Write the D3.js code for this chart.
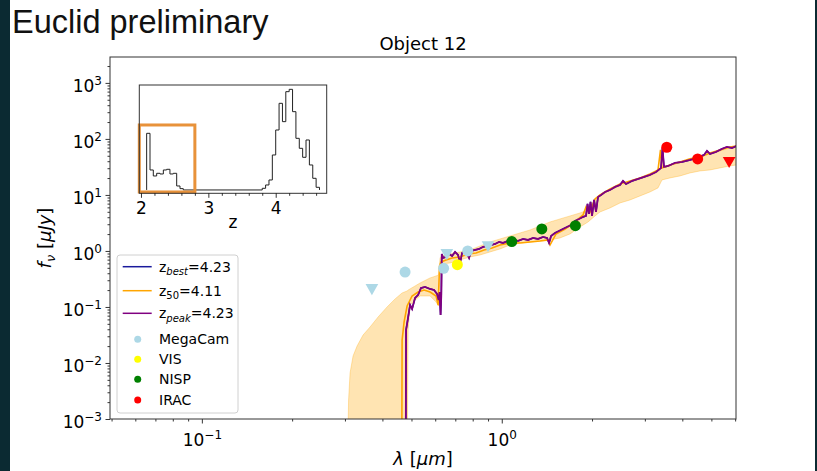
<!DOCTYPE html>
<html><head><meta charset="utf-8">
<script src="https://cdn.jsdelivr.net/npm/d3@7"></script>
<style>body{margin:0;background:#fff}svg{display:block}text{font-family:"DejaVu Sans",sans-serif}</style>
</head><body>
<svg id="c" width="817" height="471"></svg>
<script>
// ---------- DATA ----------
const xLim = [0.0494, 6.04];          // wavelength [um]
const yLim = [1e-3, 2900];            // flux [uJy]
const xMajorTicks = [0.1, 1];
const yMajorTicks = [1e-3, 1e-2, 1e-1, 1, 10, 100, 1000];

// best-fit / peak template (z = 4.23)
const peakLambda = [0.4778,0.4797,0.487,0.4946,0.5023,0.514,0.526,0.538,0.555,0.577,
0.5946,0.6086,0.6157,0.6204,0.6252,0.6285,0.631,0.6373,0.652,0.6673,
0.683,0.6988,0.715,0.726,0.7375,0.76,0.778,0.79,0.815,0.84,
0.8664,0.893,0.921,0.95,0.9795,1.01,1.049,1.09,1.133,1.178,
1.224,1.2716,1.321,1.373,1.416,1.438,1.46,1.505,1.552,1.6,
1.651,1.702,1.755,1.81,1.866,1.91,1.932,1.954,1.977,2.0,
2.031,2.062,2.094,2.143,2.21,2.296,2.388,2.48,2.537,2.596,
2.719,2.847,2.981,3.121,3.268,3.396,3.435,3.475,3.584,3.782,
3.99,4.244,4.477,4.725,4.834,4.947,5.18,5.424,5.636,5.856,6.085];
const peakFlux = [1e-5,0.039,0.0636,0.1086,0.092,0.145,0.164,0.218,0.2276,0.2096,
0.201,0.1706,0.1334,0.185,0.072,0.157,0.884,0.75,0.781,0.883,
0.814,0.96,0.849,0.61,0.921,1.0,0.75,1.0,1.042,1.086,
1.179,1.228,1.28,1.334,1.448,1.39,1.509,1.572,1.509,1.638,
1.572,1.707,1.638,1.778,1.707,1.39,1.853,2.096,2.275,2.47,
2.683,2.911,3.434,3.727,4.047,4.217,6.9,4.58,7.5,4.217,
8.14,4.97,9.21,10,11.31,12.28,13.9,15.1,17.78,15.7,
17.78,19.3,20.96,22.76,25.7,30.3,69,31.6,32.9,37.3,
38.8,42.2,45.8,51.8,61,54,58.6,66.3,72,69,75];
// z_best = z_peak = 4.23 -> same template
const bestLambda = peakLambda;
const bestFlux = peakFlux;

// median template (z = 4.11)
const medLambda = [0.4634,0.4653,0.4725,0.4835,0.5023,0.526,0.5508,0.577,0.604,0.6135,
0.6204,0.6275,0.652,0.683,0.726,0.772,0.821,0.873,0.928,0.987,
1.066,1.151,1.243,1.342,1.427,1.449,1.517,1.626,1.755,1.866,
1.91,1.97,2.046,2.127,2.296,2.48,2.677,2.891,3.121,3.319,
3.383,3.422,3.639,3.93,4.244,4.581,4.947,5.342,5.768,6.085];
const medFlux = [1e-5,0.0258,0.054,0.104,0.157,0.185,0.201,0.185,0.157,0.1086,
0.54,0.636,0.69,0.75,0.781,0.884,0.921,1.042,1.131,1.28,
1.39,1.39,1.448,1.509,1.572,1.28,2.01,2.47,3.3,4.39,
6.1,4.97,8.49,10,12.8,15.7,17.78,20.1,23.7,27.9,
63.6,30.3,34.3,38.8,44,47.7,56.2,63.6,72,75];

// uncertainty band
const bandLambda = [0.3050,0.3085,0.3120,0.3193,0.3293,0.3448,0.3639,0.3870,0.4146,0.4408,
0.4653,0.4835,0.4872,0.4946,0.5140,0.5341,0.5768,0.6039,0.6156,0.6227,
0.6299,0.6726,0.7261,0.7840,0.8465,0.9140,0.9870,1.066,1.151,1.243,
1.342,1.449,1.564,1.689,1.824,1.940,2.046,2.127,2.296,2.480,
2.677,2.891,3.121,3.319,3.422,3.639,3.930,4.244,4.581,4.947,
5.342,5.768,6.085];
const bandHigh = [1e-4,0.00218,0.00663,0.01334,0.0201,0.0316,0.0440,0.0663,0.1,0.139,
0.178,0.193,0.20,0.21,0.237,0.268,0.330,0.358,0.373,0.750,
0.814,0.884,0.960,1.042,1.228,1.448,1.638,1.853,2.096,2.371,
2.795,3.295,3.728,4.217,4.771,5.397,8.48,9.60,12.28,14.48,
17.08,19.31,21.84,25.75,30.36,34.34,37.28,42.17,47.7,53.96,
61.05,69.04,75.0];
const bandLow = [1e-4,1e-4,1e-4,1e-4,1e-4,1e-4,1e-4,1e-4,1e-4,1e-4,
1e-4,1e-4,0.0388,0.1086,0.1334,0.1572,0.1572,0.1228,0.1042,0.458,
0.586,0.610,0.691,0.781,0.848,0.960,1.086,1.280,1.390,1.448,
1.509,1.572,1.707,2.012,2.683,3.295,4.217,4.970,5.86,7.20,
8.14,9.60,11.31,13.34,18.53,20.12,21.84,24.71,26.83,27.93,
30.36,32.95,34.34];

// photometry
const megacamLambda = [0.476, 0.64, 0.77];
const megacamFlux = [0.42, 0.49, 1.0];
const megacamLimLambda = [0.369, 0.656, 0.90];
const megacamLimFlux = [0.22, 0.93, 1.28];
const visLambda = [0.711];
const visFlux = [0.57];
const nispLambda = [1.08, 1.36, 1.76];
const nispFlux = [1.47, 2.47, 2.83];
const iracLambda = [3.55, 4.5];
const iracFlux = [71, 44];
const iracLimLambda = [5.73];
const iracLimFlux = [41];

// inset P(z) histogram
const histZ = [2.084,2.134,2.183,2.233,2.282,2.332,2.381,2.430,2.480,2.530,2.579,2.628,
3.80,3.85,3.90,3.95,4.00,4.05,4.10,4.15,4.20,4.25,4.30,4.35,4.40,4.45,4.50,4.55,4.60];
const histCounts = [170,60,42,50,48,60,62,48,50,12,4,0,
5,15,30,105,180,260,205,295,302,235,155,125,98,150,75,35,8];
const histEndZ = 4.65;
const insetXLim = [1.975, 4.757];
const insetYLim = [-10, 315];
const insetMajorTicks = [2, 3, 4];
const insetMinorTicks = [2.2,2.4,2.6,2.8,3.2,3.4,3.6,3.8,4.2,4.4,4.6];
const boxZ = [1.975, 2.80];
const boxCounts = [-6, 195];

const legendLines = [
  {name:"best", val:"4.23", color:"#1a1a9c"},
  {name:"50", val:"4.11", color:"orange"},
  {name:"peak", val:"4.23", color:"purple"}];
const legendMarkers = [
  {name:"MegaCam", color:"lightblue"},
  {name:"VIS", color:"yellow"},
  {name:"NISP", color:"green"},
  {name:"IRAC", color:"red"}];

// ---------- DRAW ----------
const svg = d3.select("#c");
svg.append("rect").attr("width",817).attr("height",471).attr("fill","#fff");
svg.append("rect").attr("x",0).attr("y",0).attr("width",10).attr("height",471).attr("fill","#0b2a32");
svg.append("rect").attr("x",815).attr("y",0).attr("width",2).attr("height",471).attr("fill","#0b2a32");

svg.append("text").attr("x",12).attr("y",33).attr("font-size",32.5)
  .style("font-family","'Liberation Sans',Arial,sans-serif").attr("fill","#111").text("Euclid preliminary");

const L=110,R=736,T=57,B=419;
const x = d3.scaleLog().domain(xLim).range([L,R]);
const y = d3.scaleLog().domain(yLim).range([B,T]);

svg.append("text").attr("x",(L+R)/2).attr("y",50).attr("text-anchor","middle")
  .attr("font-size",18).text("Object 12");

const defs = svg.append("defs");
defs.append("clipPath").attr("id","clip").append("rect")
  .attr("x",L).attr("y",T).attr("width",R-L).attr("height",B-T);

const plot = svg.append("g").attr("clip-path","url(#clip)");

const band = bandLambda.map((l,i)=>({l, lo:bandLow[i], hi:bandHigh[i]}));
plot.append("path").datum(band)
  .attr("d", d3.area().x(d=>x(d.l)).y0(d=>y(d.lo)).y1(d=>y(d.hi)))
  .attr("fill","orange").attr("fill-opacity",0.3)
  .attr("stroke","orange").attr("stroke-opacity",0.3).attr("stroke-width",1);

const line = d3.line().x(d=>x(d[0])).y(d=>y(d[1]));
plot.append("path").datum(bestLambda.map((l,i)=>[l,bestFlux[i]]))
  .attr("d",line).attr("fill","none").attr("stroke","#1a1a9c").attr("stroke-width",1.5);
plot.append("path").datum(medLambda.map((l,i)=>[l,medFlux[i]]))
  .attr("d",line).attr("fill","none").attr("stroke","orange").attr("stroke-width",1.6);
plot.append("path").datum(peakLambda.map((l,i)=>[l,peakFlux[i]]))
  .attr("d",line).attr("fill","none").attr("stroke","purple").attr("stroke-width",1.8);

function circles(ls, fs, color){
  plot.selectAll(null).data(ls.map((l,i)=>[l,fs[i]])).enter().append("circle")
    .attr("cx",d=>x(d[0])).attr("cy",d=>y(d[1])).attr("r",5.5).attr("fill",color);
}
function tris(ls, fs, color){
  const tri = d3.symbol().type(d3.symbolTriangle).size(70);
  plot.selectAll(null).data(ls.map((l,i)=>[l,fs[i]])).enter().append("path")
    .attr("d",tri).attr("transform",d=>`translate(${x(d[0])},${y(d[1])}) rotate(180)`)
    .attr("fill",color);
}
circles(megacamLambda, megacamFlux, "lightblue");
tris(megacamLimLambda, megacamLimFlux, "lightblue");
circles(visLambda, visFlux, "yellow");
circles(nispLambda, nispFlux, "green");
circles(iracLambda, iracFlux, "red");
tris(iracLimLambda, iracLimFlux, "red");

// axes
function minorsOf(majors, lim){
  const out=[];
  const lo=Math.floor(Math.log10(lim[0])), hi=Math.ceil(Math.log10(lim[1]));
  for(let e=lo;e<=hi;e++) for(let k=2;k<=9;k++){const v=k*Math.pow(10,e); if(v>=lim[0]&&v<=lim[1]) out.push(v);}
  return out;
}
function supLabel(sel){
  sel.selectAll(".tick text").each(function(d){
    const t=d3.select(this); t.text(null);
    const e=Math.round(Math.log10(d));
    t.append("tspan").text("10");
    t.append("tspan").attr("dy",-7).attr("font-size",12).text(e<0?"\u2212"+(-e):String(e));
  });
}
const gx = svg.append("g").attr("transform",`translate(0,${B})`);
gx.call(d3.axisBottom(x).tickValues(minorsOf(xMajorTicks,xLim)).tickSize(2.5).tickFormat(()=>""));
const gx2 = svg.append("g").attr("transform",`translate(0,${B})`);
gx2.call(d3.axisBottom(x).tickValues(xMajorTicks).tickSize(4.5).tickFormat(()=>""));
gx2.selectAll(".tick text").attr("y",15).attr("font-size",17).attr("fill","#000");
supLabel(gx2);

const gy = svg.append("g").attr("transform",`translate(${L},0)`);
gy.call(d3.axisLeft(y).tickValues(minorsOf(yMajorTicks,yLim)).tickSize(2.5).tickFormat(()=>""));
const gy2 = svg.append("g").attr("transform",`translate(${L},0)`);
gy2.call(d3.axisLeft(y).tickValues(yMajorTicks).tickSize(4.5).tickFormat(()=>""));
gy2.selectAll(".tick text").attr("x",-8).attr("dy","0.5em").attr("font-size",17).attr("fill","#000");
supLabel(gy2);
svg.selectAll(".domain").remove();
svg.selectAll(".tick line").attr("stroke","#000").attr("stroke-width",0.8);

svg.append("rect").attr("x",L).attr("y",T).attr("width",R-L).attr("height",B-T)
  .attr("fill","none").attr("stroke","#333").attr("stroke-width",1);

// axis labels
const xl = svg.append("text").attr("x",(L+R)/2).attr("y",465).attr("text-anchor","middle").attr("font-size",18);
xl.append("tspan").attr("font-style","italic").text("λ");
xl.append("tspan").text(" [");
xl.append("tspan").attr("font-style","italic").text("μm");
xl.append("tspan").text("]");

const yl = svg.append("text").attr("transform",`translate(51,${(T+B)/2}) rotate(-90)`)
  .attr("text-anchor","middle").attr("font-size",18);
yl.append("tspan").attr("font-style","italic").text("f");
yl.append("tspan").attr("font-style","italic").attr("font-size",13).attr("dy",4).text("ν");
yl.append("tspan").attr("dy",-4).text(" [");
yl.append("tspan").attr("font-style","italic").text("μJy");
yl.append("tspan").text("]");

// legend
const lg = svg.append("g");
lg.append("rect").attr("x",117).attr("y",255).attr("width",121).attr("height",158).attr("rx",3)
  .attr("fill","#fff").attr("fill-opacity",0.8).attr("stroke","#d0d0d0");
const lineRowsY = [266.7, 290.7, 313.3];
legendLines.forEach((d,i)=>{
  const yy=lineRowsY[i];
  lg.append("line").attr("x1",122.7).attr("x2",151.7).attr("y1",yy).attr("y2",yy)
    .attr("stroke",d.color).attr("stroke-width",1.5);
  const t=lg.append("text").attr("x",159).attr("y",yy+5).attr("font-size",14);
  t.append("tspan").text("z");
  t.append("tspan").attr("font-size",10).attr("dy",3.5)
    .attr("font-style", d.name==="50"?"normal":"italic").text(d.name);
  t.append("tspan").attr("dy",-3.5).text("="+d.val);
});
const markerRowsY = [339.3, 359.3, 379.3, 400];
legendMarkers.forEach((d,i)=>{
  const yy=markerRowsY[i];
  lg.append("circle").attr("cx",137.7).attr("cy",yy).attr("r",3.5).attr("fill",d.color);
  lg.append("text").attr("x",159).attr("y",yy+5).attr("font-size",14).text(d.name);
});

// inset
const IL=139.3, IR=326.7, IT=85, IB=193.3;
const xz = d3.scaleLinear().domain(insetXLim).range([IL,IR]);
const yz = d3.scaleLinear().domain(insetYLim).range([IB,IT]);
const ins = svg.append("g");
ins.append("rect").attr("x",IL).attr("y",IT).attr("width",IR-IL).attr("height",IB-IT).attr("fill","#fff");
const pts=[[histZ[0],0]];
histZ.forEach((z,i)=>{
  const z2 = i<histZ.length-1 ? histZ[i+1] : histEndZ;
  pts.push([z,histCounts[i]]); pts.push([z2,histCounts[i]]);
});
pts.push([histEndZ,0]);
ins.append("path").datum(pts).attr("d",d3.line().x(d=>xz(d[0])).y(d=>yz(d[1])))
  .attr("fill","none").attr("stroke","#222").attr("stroke-width",1);
ins.append("rect").attr("x",xz(boxZ[0])).attr("y",yz(boxCounts[1]))
  .attr("width",xz(boxZ[1])-xz(boxZ[0])).attr("height",yz(boxCounts[0])-yz(boxCounts[1]))
  .attr("fill","none").attr("stroke","#e8923a").attr("stroke-width",3);
ins.append("rect").attr("x",IL).attr("y",IT).attr("width",IR-IL).attr("height",IB-IT)
  .attr("fill","none").attr("stroke","#333").attr("stroke-width",1);
const gi = ins.append("g").attr("transform",`translate(0,${IB})`);
gi.call(d3.axisBottom(xz).tickValues(insetMinorTicks).tickSize(2.5).tickFormat(()=>""));
const gi2 = ins.append("g").attr("transform",`translate(0,${IB})`);
gi2.call(d3.axisBottom(xz).tickValues(insetMajorTicks).tickSize(4.5).tickFormat(d3.format("d")));
gi2.selectAll(".tick text").attr("y",8.5).attr("font-size",17).attr("fill","#000");
ins.selectAll(".domain").remove();
ins.selectAll(".tick line").attr("stroke","#000").attr("stroke-width",0.8);
ins.append("text").attr("x",(IL+IR)/2).attr("y",228).attr("text-anchor","middle").attr("font-size",17).text("z");
</script></body></html>
